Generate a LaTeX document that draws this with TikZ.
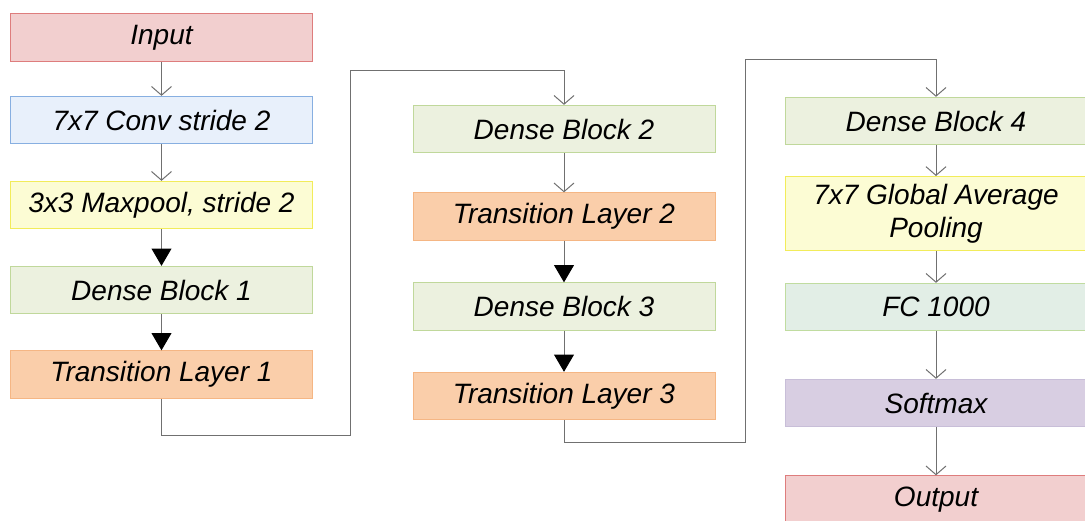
\documentclass[tikz,border=0pt]{standalone}
\usepackage{fontspec}
\setmainfont{Liberation Sans}
\usetikzlibrary{positioning,arrows.meta}

\definecolor{iofill}{RGB}{242,207,207}
\definecolor{ioline}{RGB}{222,125,125}
\definecolor{convfill}{RGB}{232,240,251}
\definecolor{convline}{RGB}{135,175,225}
\definecolor{poolfill}{RGB}{252,252,212}
\definecolor{poolline}{RGB}{242,236,90}
\definecolor{densefill}{RGB}{236,241,223}
\definecolor{denseline}{RGB}{192,216,155}
\definecolor{transfill}{RGB}{250,206,170}
\definecolor{transline}{RGB}{245,182,132}
\definecolor{fcfill}{RGB}{226,238,230}
\definecolor{fcline}{RGB}{192,220,160}
\definecolor{smfill}{RGB}{216,206,226}
\definecolor{smline}{RGB}{200,190,216}
\definecolor{linegray}{RGB}{112,112,112}

\begin{document}
\begin{tikzpicture}[
        x=0.75pt, y=-0.75pt,
        box/.style={draw, line width=0.75pt, minimum width=226.5pt, minimum height=35.5pt, inner sep=0pt, align=center, font=\fontsize{21}{25}\selectfont\itshape},
        io/.style={box, draw=ioline, fill=iofill},
        conv/.style={box, draw=convline, fill=convfill},
        pool/.style={box, draw=poolline, fill=poolfill},
        dense/.style={box, draw=denseline, fill=densefill},
        trans/.style={box, draw=transline, fill=transfill},
        fc/.style={box, draw=fcline, fill=fcfill},
        soft/.style={box, draw=smline, fill=smfill},
        flow/.style={draw=linegray, line width=0.75pt, -{Straight Barb[length=6.5pt, width=15pt]}},
        bigflow/.style={draw=linegray, line width=0.75pt, -{Triangle[length=13pt, width=15pt, color=black, fill=black]}}
    ]
        \useasboundingbox (0,0) rectangle (1085,521);

        % first column
        \node[io] (inp) at (161.5,37.5) {Input};
        \node[conv] (conv) at (161.5,120) {7x7 Conv stride 2};
        \node[pool] (maxp) at (161.5,205) {3x3 Maxpool, stride 2};
        \node[dense] (db1) at (161.5,290) {Dense Block 1};
        \node[trans] (tr1) at (161.5,374.5) {Transition Layer 1};

        % second column
        \node[dense] (db2) at (564,129) {Dense Block 2};
        \node[trans] (tr2) at (564,216.5) {Transition Layer 2};
        \node[dense] (db3) at (564,306.5) {Dense Block 3};
        \node[trans] (tr3) at (564,396) {Transition Layer 3};

        % third column
        \node[dense] (db4) at (936,121) {Dense Block 4};
        \node[pool, minimum height=55.5pt] (gap) at (936,213.5) {7x7 Global Average\\Pooling};
        \node[fc] (fc) at (936,307) {FC 1000};
        \node[soft] (sm) at (936,403) {Softmax};
        \node[io] (out) at (936,499.5) {Output};

        \coordinate (turn1) at (350,435.5);
        \coordinate (top1) at (350,70);
        \coordinate (turn2) at (745,442);
        \coordinate (top2) at (745,59);

        \draw[flow] (inp) -- (conv);
        \draw[flow] (conv) -- (maxp);
        \draw[bigflow] (maxp) -- (db1);
        \draw[bigflow] (db1) -- (tr1);
        \draw[flow] (tr1.south) |- (turn1) -- (top1) -| (db2.north);

        \draw[flow] (db2) -- (tr2);
        \draw[bigflow] (tr2) -- (db3);
        \draw[bigflow] (db3) -- (tr3);
        \draw[flow] (tr3.south) |- (turn2) -- (top2) -| (db4.north);

        \draw[flow] (db4) -- (gap);
        \draw[flow] (gap) -- (fc);
        \draw[flow] (fc) -- (sm);
        \draw[flow] (sm) -- (out);

    \end{tikzpicture}
\end{document}
